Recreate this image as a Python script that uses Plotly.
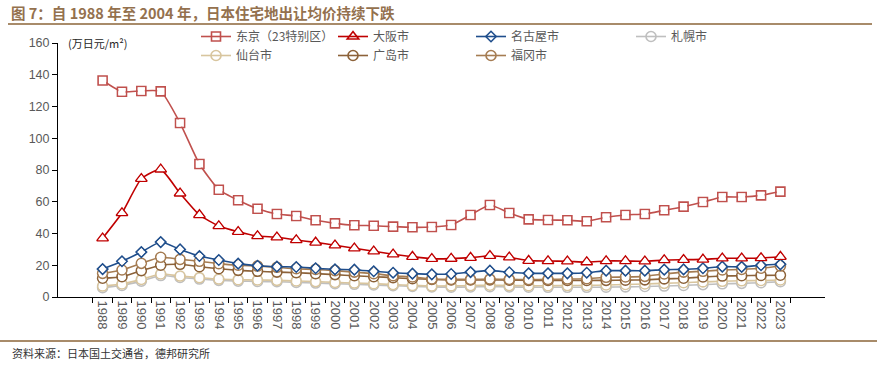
import plotly.graph_objects as go

years = [str(y) for y in range(1988, 2024)]

tokyo = [136.4, 129.3, 129.8, 129.5, 109.6, 83.8, 67.6, 60.9, 55.6, 52.3, 51.0, 48.3,
         46.4, 45.2, 44.9, 44.3, 43.9, 44.1, 45.4, 51.7, 58.0, 52.9, 48.9, 48.5,
         48.3, 47.7, 50.2, 51.7, 52.3, 54.6, 56.9, 59.8, 63.0, 63.0, 64.0, 66.4]
osaka = [37.0, 52.9, 74.5, 80.4, 65.3, 51.7, 44.7, 41.1, 38.4, 37.6, 35.9, 34.4,
         32.6, 30.7, 28.8, 26.9, 25.4, 24.1, 24.2, 24.8, 26.0, 25.0, 22.9, 22.7,
         22.5, 22.0, 22.7, 22.7, 22.5, 23.3, 23.5, 23.7, 24.4, 24.4, 24.6, 25.4]
nagoya = [17.6, 22.5, 28.3, 34.6, 30.0, 25.8, 23.3, 21.0, 19.7, 19.1, 18.9, 18.1,
          17.4, 17.2, 16.2, 15.3, 14.7, 14.3, 14.5, 15.7, 16.6, 15.6, 14.9, 14.9,
          14.9, 15.3, 16.6, 16.6, 16.6, 17.2, 17.4, 18.1, 19.1, 19.0, 20.0, 20.6]
sapporo = [5.9, 7.3, 10.0, 13.5, 12.3, 11.3, 10.5, 10.0, 9.8, 9.6, 9.2, 8.8,
           8.4, 8.0, 7.6, 7.1, 6.7, 6.3, 6.2, 6.3, 6.5, 6.3, 6.2, 6.1,
           6.1, 6.1, 6.2, 6.4, 6.6, 6.9, 7.3, 7.8, 8.3, 8.6, 9.0, 9.6]
sendai = [6.9, 8.2, 11.1, 14.5, 13.2, 12.2, 11.3, 10.9, 10.7, 10.5, 10.1, 9.7,
          9.2, 8.8, 8.4, 7.8, 7.3, 6.9, 7.0, 7.2, 7.4, 7.2, 7.1, 7.1,
          7.2, 7.3, 7.6, 7.9, 8.2, 8.6, 9.0, 9.5, 9.9, 10.2, 10.4, 10.7]
hiroshima = [11.8, 12.8, 16.6, 20.0, 20.6, 19.1, 17.8, 16.8, 16.2, 15.7, 15.3, 14.7,
             14.1, 13.4, 12.8, 12.2, 11.5, 11.1, 10.7, 10.7, 10.8, 10.6, 10.5, 10.4,
             10.4, 10.4, 10.5, 10.6, 10.8, 11.4, 11.8, 12.6, 13.2, 13.4, 13.6, 13.7]
fukuoka = [14.9, 17.0, 21.2, 25.0, 23.7, 22.5, 21.0, 20.0, 19.5, 18.7, 17.8, 17.4,
           16.6, 15.7, 14.7, 13.4, 12.6, 11.3, 11.1, 11.1, 11.3, 11.1, 11.0, 11.1,
           11.3, 11.5, 12.4, 12.6, 13.0, 14.5, 15.7, 16.2, 17.0, 17.4, 18.1, 19.5]

yticks = [0, 20, 40, 60, 80, 100, 120, 140, 160]

# name, values, colour, symbol, size, legend, rank
series = [
    ("东京（23特别区）", tokyo, "#C0504D", "square-open", 9, "legend", 1),
    ("仙台市", sendai, "#D8C59E", "circle-open", 10, "legend", 2),
    ("大阪市", osaka, "#C00000", "triangle-up-open", 10, "legend2", 1),
    ("广岛市", hiroshima, "#8C6239", "circle-open", 10, "legend2", 2),
    ("名古屋市", nagoya, "#1F4E8C", "diamond-open", 8, "legend3", 1),
    ("福冈市", fukuoka, "#A57C52", "circle-open", 10, "legend3", 2),
    ("札幌市", sapporo, "#BFBFBF", "circle-open", 10, "legend4", 1),
]

draw_order = ["札幌市", "仙台市", "广岛市", "福冈市", "名古屋市", "大阪市", "东京（23特别区）"]

fig = go.Figure()
lookup = {s[0]: s for s in series}
for name in draw_order:
    n, vals, col, sym, sz, lg, rk = lookup[name]
    fig.add_trace(go.Scatter(
        x=years, y=vals, name=n, mode="lines+markers",
        line=dict(color=col, width=1.6, shape="spline", smoothing=0.5),
        marker=dict(symbol=sym, size=sz, color=col, line=dict(width=1.6, color=col)),
        legend=lg, legendrank=rk,
    ))
    fig.add_trace(go.Scatter(
        x=years, y=vals, mode="markers", showlegend=False, hoverinfo="skip",
        marker=dict(symbol=sym.replace("-open", ""), size=sz - 2, color="white"),
        legend=lg,
    ))

legend_font = dict(family="Noto Sans CJK SC", size=12, color="#595959")
leg_common = dict(orientation="v", bgcolor="rgba(0,0,0,0)", font=legend_font,
                  yanchor="top", xanchor="left", itemwidth=30, tracegroupgap=0,
                  traceorder="normal")

def px_x(px):
    return (px - 58) / 767

def px_y(py):
    return (297 - py) / 254

fig.update_layout(
    width=877, height=368,
    margin=dict(l=58, r=52, t=43, b=71),
    paper_bgcolor="white", plot_bgcolor="white",
    font=dict(family="Noto Sans CJK SC", size=12, color="#595959"),
    showlegend=True,
    legend=dict(x=px_x(196), y=px_y(22), **leg_common),
    legend2=dict(x=px_x(333), y=px_y(22), **leg_common),
    legend3=dict(x=px_x(471), y=px_y(22), **leg_common),
    legend4=dict(x=px_x(631), y=px_y(22), **leg_common),
    xaxis=dict(
        type="category", tickangle=90, showline=True, linecolor="black", linewidth=1,
        ticks="outside", ticklen=5, tickcolor="black", tickson="boundaries",
        showgrid=False, zeroline=False,
        tickfont=dict(family="Liberation Sans", size=13, color="#595959"),
    ),
    yaxis=dict(
        range=[0, 160], tickvals=yticks, ticktext=[str(v) for v in yticks],
        showline=True, linecolor="black", linewidth=1, ticks="outside", ticklen=5,
        tickcolor="black", showgrid=False, zeroline=False,
        tickfont=dict(family="Liberation Sans", size=12.5, color="#595959"),
    ),
    annotations=[
        dict(text="<b>图 7：自 1988 年至 2004 年，日本住宅地出让均价持续下跌</b>",
             xref="paper", yref="paper", x=px_x(9), y=px_y(12), xanchor="left",
             yanchor="middle", showarrow=False,
             font=dict(family="Noto Sans CJK SC", size=14.5, color="#94714E")),
        dict(text="(万日元/m²)", xref="paper", yref="paper", x=px_x(66), y=px_y(43),
             xanchor="left", yanchor="middle", showarrow=False,
             font=dict(family="Noto Sans CJK SC", size=11, color="#262626")),
        dict(text="资料来源：日本国土交通省，德邦研究所", xref="paper", yref="paper",
             x=px_x(10), y=px_y(353), xanchor="left", yanchor="middle", showarrow=False,
             font=dict(family="Noto Sans CJK SC", size=11, color="#333333")),
    ],
    shapes=[
        dict(type="line", xref="paper", yref="paper", x0=px_x(8), x1=px_x(872),
             y0=px_y(24), y1=px_y(24), line=dict(color="#A88B6A", width=2)),
        dict(type="line", xref="paper", yref="paper", x0=px_x(0), x1=px_x(877),
             y0=px_y(341), y1=px_y(341), line=dict(color="#A88B6A", width=2)),
    ],
)

fig.write_html("out.html", config={"displayModeBar": False},
               post_script="document.body.style.margin='0';")
